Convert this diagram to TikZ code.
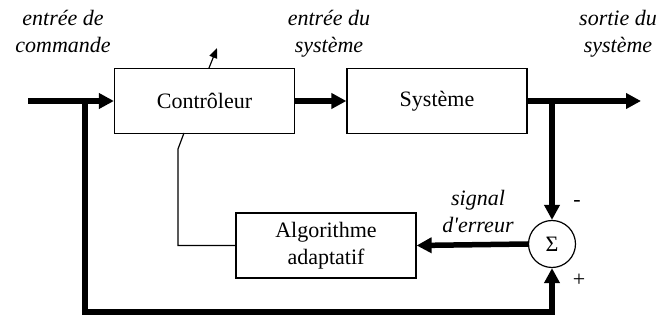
\documentclass[tikz,border=0pt]{standalone}
\usepackage{fontspec}
\setmainfont{Liberation Serif}
\usetikzlibrary{arrows.meta}
\begin{document}
\begin{tikzpicture}[x=1pt,y=-1pt,
  blk/.style={draw,line width=1.2pt,minimum width=180pt,minimum height=65pt,inner sep=0pt,align=center,font=\fontsize{22}{27}\selectfont},
  lbl/.style={align=center,inner sep=0pt,anchor=base,font=\fontsize{22}{27}\selectfont\itshape},
  sgn/.style={inner sep=0pt,font=\fontsize{22}{26}\selectfont},
  bus/.style={line width=5.5pt,-{Triangle[length=15pt,width=15pt]}},
  busn/.style={line width=5.5pt},
  thin/.style={line width=1.2pt}]
\useasboundingbox (0,0) rectangle (661,320);
\node[blk] (ctrl) at (204.5,101) {Contrôleur};
\node[blk] (sys) at (437,101) {Système};
\node[blk] (algo) at (326,245.5) {Algorithme\\adaptatif};
\node[draw,circle,line width=1.2pt,minimum size=47pt,inner sep=0pt,font=\fontsize{22}{26}\selectfont] (sum) at (552,244) {Σ};
\coordinate (in) at (28,101);
\coordinate (out) at (641,101);
\coordinate (j1) at (85,101);
\coordinate (j2) at (552,101);
\coordinate (b1) at (85,312);
\coordinate (p0) at (184,133);
\coordinate (p1) at (178,149);
\coordinate (q0) at (209,68);
\coordinate (q1) at (217,48);
\draw[bus] (in) -- (ctrl.west);
\draw[bus] (ctrl.east) -- (sys.west);
\draw[bus] (sys.east) -- (out);
\draw[bus] (j2) -- (sum.north);
\draw[busn] (j1) -- (b1);
\draw[bus] ([xshift=-2.75pt]b1) -| (sum.south);
\draw[bus] (sum.west) -- (algo.east);
\draw[thin] (p0) -- (p1) |- (algo.west);
\draw[thin,-{Triangle[length=10pt,width=8pt]}] (q0) -- (q1);
\node[lbl] (l1) at (63,53) {entrée de\\commande};
\node[lbl] (l2) at (329,53) {entrée du\\système};
\node[lbl] (l3) at (618,53) {sortie du\\système};
\node[lbl] (l4) at (478,233) {signal\\d\textquotesingle erreur};
\node[sgn] (mn) at (577,203) {-};
\node[sgn] (pl) at (579,280) {+};
\end{tikzpicture}
\end{document}
